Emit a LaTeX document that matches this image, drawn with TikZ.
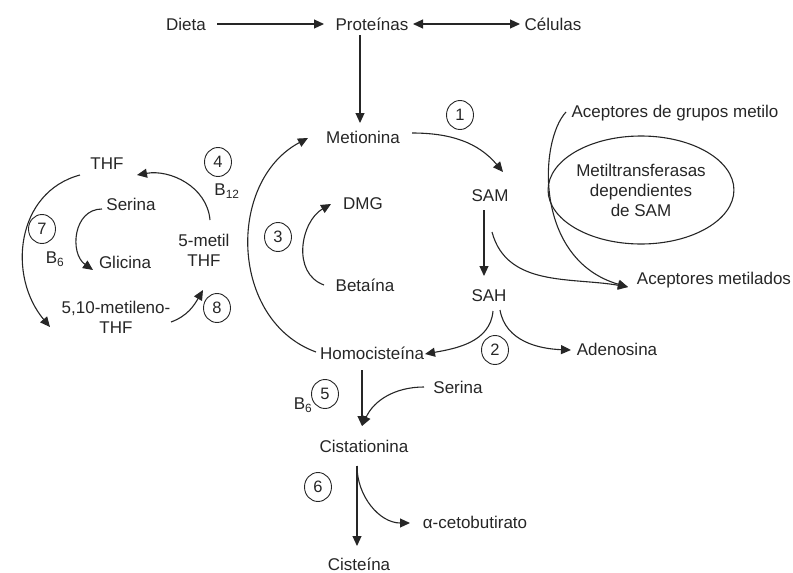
\documentclass[tikz,border=0pt]{standalone}
\usepackage{fontspec}
\setmainfont{Liberation Sans}
\usetikzlibrary{arrows.meta,shapes.geometric}

\begin{document}
\begin{tikzpicture}[
    x=1pt, y=-1pt, line width=1.1pt, color=black!85,
    mol/.style={font=\fontsize{17}{20}\selectfont, inner sep=1pt, align=center},
    num/.style={draw, ellipse, line width=0.9pt, minimum width=27pt, minimum height=29pt,
                inner sep=0pt, font=\fontsize{16.5}{18}\selectfont},
    arr/.style={-{Triangle[length=10pt,width=9pt]}},
    twoarr/.style={{Triangle[length=10pt,width=9pt]}-{Triangle[length=10pt,width=9pt]}},
]
\useasboundingbox (0,0) rectangle (793,573);

% top row
\node[mol] (dieta) at (186,24) {Dieta};
\node[mol] (prot)  at (372,24) {Proteínas};
\node[mol] (cel)   at (553,24) {Células};

% methionine cycle
\node[mol] (met)  at (363,137) {Metionina};
\node[mol] (sam)  at (490,196) {SAM};
\node[mol] (sah)  at (489,296) {SAH};
\node[mol] (dmg)  at (363,204) {DMG};
\node[mol] (beta) at (365,285) {Betaína};
\node[mol] (homo) at (372,353) {Homocisteína};
\node[mol] (aden) at (617,349) {Adenosina};

% transsulfuration
\node[mol] (serB) at (458,387) {Serina};
\node[mol] (cist) at (364,446) {Cistationina};
\node[mol] (ceto) at (475,522) {α-cetobutirato};
\node[mol] (cis)  at (359,564) {Cisteína};

% methyl transfer
\node[mol] (acg) at (675,113) {Aceptores de grupos metilo};
\node[mol] (acm) at (714,280) {Aceptores metilados};
\node[mol, draw, ellipse, minimum width=174pt, minimum height=108pt] (mt) at (641,190)
    {Metiltransferasas\\dependientes\\de SAM};

% folate cycle
\node[mol] (thf)   at (107,164) {THF};
\node[mol] (serA)  at (131,204) {Serina};
\node[mol] (gli)   at (125,262) {Glicina};
\node[mol] (mthf)  at (204,250) {5-metil\\THF};
\node[mol] (mlthf) at (116,317) {5,10-metileno-\\THF};

% enzymes and cofactors
\node[num] (n1) at (460,115) {1};
\node[num] (n2) at (495,350) {2};
\node[num] (n3) at (278,237) {3};
\node[num] (n4) at (218,162) {4};
\node[num] (n5) at (325,394) {5};
\node[num] (n6) at (318,487) {6};
\node[num] (n7) at (42,229)  {7};
\node[num] (n8) at (217,308) {8};
\node[mol] (b12) at (227,191) {B\textsubscript{12}};
\node[mol] (b6a) at (55,259)  {B\textsubscript{6}};
\node[mol] (b6b) at (303,405) {B\textsubscript{6}};

% connectors
\draw[arr] ([shift={(31,0)}]dieta.center) -- ([shift={(-48,0)}]prot.center);
\draw[twoarr] ([shift={(41,0)}]prot.center) -- ([shift={(-33,0)}]cel.center);
\draw[arr] ([shift={(-12,11)}]prot.center) -- ([shift={(-3,-14)}]met.center);
\draw[arr] ([shift={(49,-4)}]met.center) to[out=0, in=130] ([shift={(13,-24)}]sam.center);
\draw[arr] ([shift={(-6,14)}]sam.center) -- ([shift={(-5,-20)}]sah.center);
\draw[arr] ([shift={(2,36)}]sam.center) to[out=-75, in=170] ([shift={(-86,7)}]acm.center);
\draw[arr] ([shift={(-109,-1)}]acg.center) to[out=227, in=164, out looseness=0.55, in looseness=1.35]
    ([shift={(-86,7)}]acm.center);
\draw[arr] ([shift={(4,15)}]sah.center) to[out=-95, in=10] ([shift={(53,1)}]homo.center);
\draw[arr] ([shift={(11,14)}]sah.center) to[out=-80, in=178] ([shift={(-46,1)}]aden.center);
\draw[arr] ([shift={(-56,-1)}]homo.center) to[out=160, in=208, looseness=1.1] ([shift={(-55,1)}]met.center);
\draw[arr] ([shift={(-41,0)}]beta.center) to[out=160, in=210, looseness=1.1] ([shift={(-32,0)}]dmg.center);
\draw[arr] ([shift={(-10,17)}]homo.center) -- ([shift={(-2,-20)}]cist.center);
\draw[arr] ([shift={(-34,0)}]serB.center) to[out=180, in=65] ([shift={(-2,-20)}]cist.center);
\draw[arr] ([shift={(-7,20)}]cist.center) -- ([shift={(-2,-18)}]cis.center);
\draw[arr] ([shift={(-7,20)}]cist.center) to[out=-90, in=180] ([shift={(-65,1)}]ceto.center);
\draw[arr] ([shift={(6,-30)}]mthf.center) to[out=95, in=10] ([shift={(30,11)}]thf.center);
\draw[arr] ([shift={(-29,5)}]serA.center) to[out=180, in=145, looseness=1.2] ([shift={(-32,8)}]gli.center);
\draw[arr] ([shift={(-27,11)}]thf.center) to[out=195, in=130, looseness=1.1] ([shift={(-66,10)}]mlthf.center);
\draw[arr] ([shift={(55,5)}]mlthf.center) to[out=20, in=240] ([shift={(-1,40)}]mthf.center);
\end{tikzpicture}
\end{document}
